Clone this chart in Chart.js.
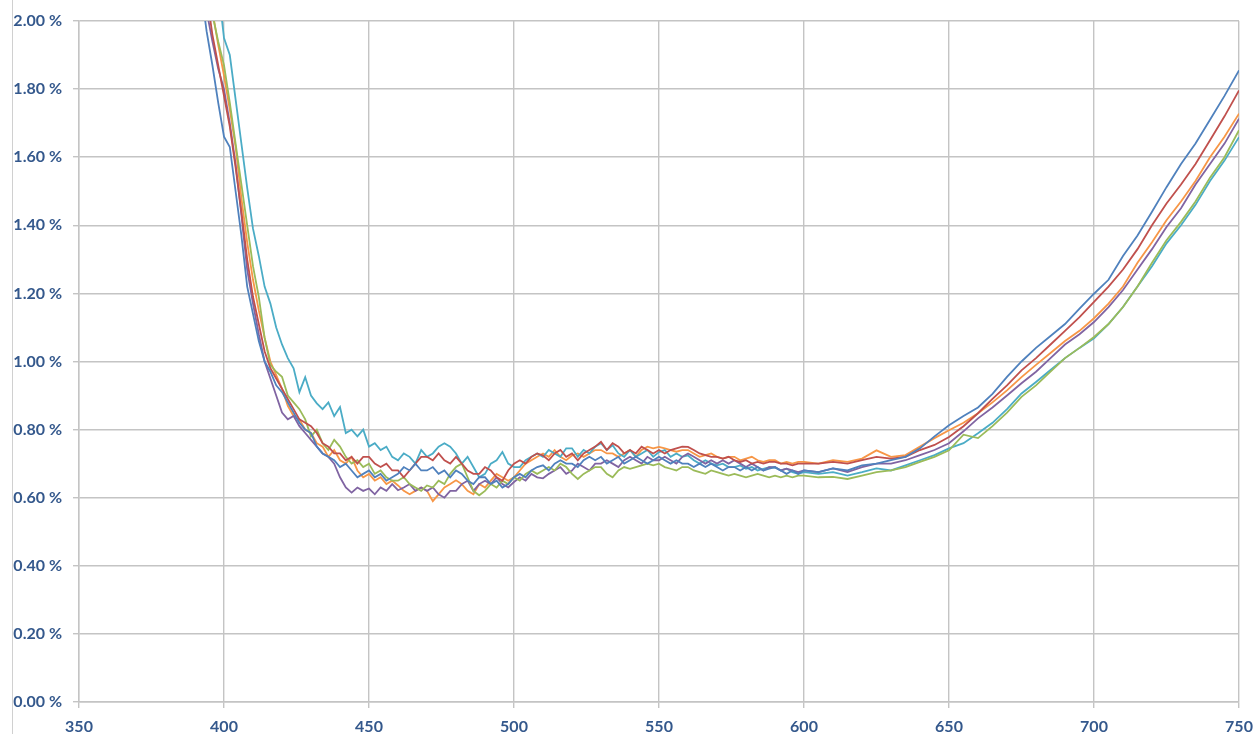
<!DOCTYPE html>
<html>
<head>
<meta charset="utf-8">
<script src="https://cdn.jsdelivr.net/npm/chart.js@4/dist/chart.umd.min.js"></script>
<style>
  body { margin: 0; background: #fff; }
  #wrap { position: relative; width: 1257px; height: 734px; }
  #edge { position: absolute; left: 12px; top: 0; width: 0; height: 734px; border-left: 1px solid #d0d0d0; }
</style>
</head>
<body>
<div id="wrap">
  <canvas id="myChart"></canvas>
  <div id="edge"></div>
</div>
<script>
// wavelengths (nm)
var wavelengths = [
  390, 392, 394, 396, 398, 400, 402, 404, 406, 408,
  410, 412, 414, 416, 418, 420, 422, 424, 426, 428,
  430, 432, 434, 436, 438, 440, 442, 444, 446, 448,
  450, 452, 454, 456, 458, 460, 462, 464, 466, 468,
  470, 472, 474, 476, 478, 480, 482, 484, 486, 488,
  490, 492, 494, 496, 498, 500, 502, 504, 506, 508,
  510, 512, 514, 516, 518, 520, 522, 524, 526, 528,
  530, 532, 534, 536, 538, 540, 542, 544, 546, 548,
  550, 552, 554, 556, 558, 560, 562, 564, 566, 568,
  570, 572, 574, 576, 578, 580, 582, 584, 586, 588,
  590, 592, 594, 596, 598, 600,
  605, 610, 615, 620, 625, 630, 635, 640, 645, 650,
  655, 660, 665, 670, 675, 680, 685, 690, 695, 700,
  705, 710, 715, 720, 725, 730, 735, 740, 745, 750
];

// values in %
var serieBlue = [
  2.25, 2.10, 1.97, 1.87, 1.76, 1.66, 1.63, 1.50, 1.37, 1.22,
  1.14, 1.06, 1.00, 0.97, 0.93, 0.91, 0.88, 0.85, 0.82, 0.80,
  0.79, 0.75, 0.73, 0.72, 0.71, 0.69, 0.70, 0.68, 0.66, 0.67,
  0.68, 0.66, 0.67, 0.65, 0.66, 0.67, 0.69, 0.68, 0.70, 0.68,
  0.68, 0.69, 0.67, 0.68, 0.66, 0.68, 0.67, 0.65, 0.64, 0.66,
  0.66, 0.64, 0.65, 0.63, 0.64, 0.66, 0.67, 0.66, 0.68, 0.69,
  0.695, 0.68, 0.70, 0.71, 0.70, 0.70, 0.69, 0.71, 0.72, 0.71,
  0.72, 0.70, 0.71, 0.72, 0.70, 0.71, 0.72, 0.71, 0.70, 0.71,
  0.72, 0.71, 0.70, 0.71, 0.70, 0.70, 0.69, 0.70, 0.69, 0.70,
  0.69, 0.68, 0.69, 0.69, 0.68, 0.69, 0.68, 0.69, 0.68, 0.685,
  0.69, 0.68, 0.67, 0.68, 0.67, 0.68,
  0.675, 0.686, 0.68, 0.695, 0.70, 0.71, 0.72, 0.745, 0.78, 0.813,
  0.84, 0.865, 0.905, 0.955, 1.00, 1.04, 1.075, 1.11, 1.155, 1.199,
  1.24, 1.31, 1.37, 1.44, 1.512, 1.58, 1.64, 1.71, 1.78, 1.855
];

var serieRed = [
  2.40, 2.25, 2.08, 1.96, 1.87, 1.78, 1.69, 1.57, 1.44, 1.30,
  1.19, 1.11, 1.03, 0.98, 0.95, 0.92, 0.89, 0.86, 0.83, 0.82,
  0.81, 0.79, 0.76, 0.75, 0.73, 0.73, 0.71, 0.72, 0.70, 0.72,
  0.72, 0.70, 0.69, 0.70, 0.68, 0.68, 0.66, 0.68, 0.70, 0.72,
  0.72, 0.71, 0.73, 0.71, 0.70, 0.72, 0.70, 0.68, 0.67, 0.67,
  0.69, 0.68, 0.66, 0.65, 0.68, 0.70, 0.71, 0.70, 0.72, 0.73,
  0.724, 0.71, 0.73, 0.74, 0.72, 0.73, 0.71, 0.73, 0.74, 0.75,
  0.764, 0.74, 0.76, 0.75, 0.73, 0.74, 0.73, 0.75, 0.74, 0.73,
  0.74, 0.73, 0.74, 0.745, 0.75, 0.749, 0.74, 0.73, 0.725, 0.72,
  0.72, 0.715, 0.72, 0.71, 0.705, 0.71, 0.70, 0.705, 0.70, 0.705,
  0.705, 0.70, 0.70, 0.695, 0.70, 0.70,
  0.70, 0.705, 0.70, 0.71, 0.72, 0.715, 0.72, 0.74, 0.755, 0.778,
  0.81, 0.848, 0.89, 0.93, 0.974, 1.01, 1.05, 1.09, 1.13, 1.175,
  1.22, 1.27, 1.33, 1.40, 1.464, 1.52, 1.58, 1.65, 1.72, 1.796
];

var serieGreen = [
  2.50, 2.33, 2.17, 2.02, 1.94, 1.87, 1.76, 1.64, 1.52, 1.40,
  1.28, 1.19, 1.07, 0.99, 0.97, 0.955, 0.90, 0.88, 0.86, 0.83,
  0.78, 0.80, 0.76, 0.74, 0.77, 0.75, 0.72, 0.70, 0.71, 0.69,
  0.70, 0.67, 0.68, 0.66, 0.65, 0.65, 0.66, 0.64, 0.63, 0.62,
  0.636, 0.63, 0.65, 0.64, 0.67, 0.69, 0.70, 0.66, 0.62, 0.607,
  0.62, 0.64, 0.63, 0.65, 0.64, 0.66, 0.65, 0.67, 0.68, 0.67,
  0.68, 0.69, 0.68, 0.70, 0.69, 0.67, 0.655, 0.67, 0.68, 0.69,
  0.69, 0.67, 0.66, 0.68, 0.69, 0.685, 0.69, 0.695, 0.70, 0.695,
  0.70, 0.69, 0.685, 0.68, 0.69, 0.69, 0.68, 0.675, 0.67, 0.68,
  0.675, 0.67, 0.665, 0.67, 0.665, 0.66, 0.665, 0.67, 0.665, 0.66,
  0.665, 0.66, 0.665, 0.66, 0.665, 0.665,
  0.66, 0.661, 0.655, 0.665, 0.675, 0.68, 0.69, 0.705, 0.72, 0.739,
  0.785, 0.775, 0.81, 0.85, 0.896, 0.93, 0.97, 1.01, 1.04, 1.072,
  1.11, 1.16, 1.22, 1.29, 1.356, 1.41, 1.47, 1.54, 1.60, 1.679
];

var seriePurple = [
  2.35, 2.20, 2.03, 1.94, 1.86, 1.80, 1.70, 1.58, 1.43, 1.27,
  1.17, 1.08, 1.00, 0.95, 0.90, 0.85, 0.83, 0.84, 0.81, 0.79,
  0.77, 0.75, 0.73, 0.72, 0.70, 0.66, 0.63, 0.615, 0.63, 0.62,
  0.627, 0.61, 0.63, 0.62, 0.64, 0.622, 0.63, 0.64, 0.62, 0.63,
  0.62, 0.63, 0.61, 0.60, 0.62, 0.62, 0.64, 0.65, 0.62, 0.64,
  0.65, 0.64, 0.66, 0.64, 0.63, 0.646, 0.66, 0.65, 0.67, 0.66,
  0.657, 0.67, 0.68, 0.69, 0.67, 0.68, 0.70, 0.69, 0.68, 0.70,
  0.70, 0.71, 0.70, 0.69, 0.71, 0.72, 0.71, 0.70, 0.72, 0.71,
  0.71, 0.72, 0.71, 0.70, 0.72, 0.73, 0.72, 0.71, 0.70, 0.71,
  0.70, 0.71, 0.70, 0.71, 0.70, 0.69, 0.70, 0.69, 0.68, 0.69,
  0.69, 0.68, 0.685, 0.68, 0.675, 0.68,
  0.675, 0.686, 0.675, 0.69, 0.70, 0.70, 0.71, 0.725, 0.74, 0.76,
  0.795, 0.833, 0.865, 0.90, 0.936, 0.97, 1.01, 1.05, 1.08, 1.116,
  1.16, 1.21, 1.27, 1.33, 1.395, 1.45, 1.52, 1.58, 1.64, 1.713
];

var serieTeal = [
  2.70, 2.55, 2.40, 2.25, 2.10, 1.95, 1.90, 1.77, 1.64, 1.51,
  1.39, 1.31, 1.22, 1.17, 1.10, 1.05, 1.01, 0.98, 0.91, 0.954,
  0.90, 0.877, 0.86, 0.88, 0.84, 0.866, 0.79, 0.80, 0.78, 0.80,
  0.75, 0.76, 0.74, 0.75, 0.72, 0.71, 0.73, 0.72, 0.70, 0.74,
  0.72, 0.73, 0.75, 0.76, 0.75, 0.73, 0.70, 0.72, 0.69, 0.66,
  0.67, 0.70, 0.71, 0.734, 0.70, 0.69, 0.69, 0.71, 0.72, 0.73,
  0.72, 0.74, 0.73, 0.72, 0.745, 0.745, 0.72, 0.74, 0.73, 0.75,
  0.76, 0.74, 0.754, 0.73, 0.72, 0.74, 0.72, 0.73, 0.74, 0.72,
  0.734, 0.74, 0.72, 0.73, 0.72, 0.724, 0.71, 0.70, 0.71, 0.70,
  0.695, 0.70, 0.69, 0.69, 0.695, 0.685, 0.69, 0.68, 0.685, 0.69,
  0.688, 0.68, 0.685, 0.675, 0.67, 0.675,
  0.67, 0.675, 0.665, 0.675, 0.686, 0.68, 0.695, 0.71, 0.725, 0.745,
  0.76, 0.789, 0.82, 0.86, 0.906, 0.94, 0.975, 1.01, 1.04, 1.068,
  1.11, 1.16, 1.22, 1.28, 1.347, 1.40, 1.46, 1.53, 1.59, 1.659
];

var serieOrange = [
  2.50, 2.35, 2.18, 2.03, 1.93, 1.84, 1.74, 1.63, 1.48, 1.35,
  1.24, 1.15, 1.07, 1.00, 0.96, 0.92, 0.87, 0.84, 0.83, 0.80,
  0.79, 0.76, 0.75, 0.72, 0.74, 0.71, 0.70, 0.72, 0.68, 0.66,
  0.67, 0.65, 0.66, 0.64, 0.65, 0.636, 0.62, 0.61, 0.62, 0.63,
  0.62, 0.59, 0.61, 0.63, 0.64, 0.651, 0.64, 0.62, 0.61, 0.64,
  0.63, 0.65, 0.67, 0.66, 0.65, 0.66, 0.68, 0.70, 0.71, 0.72,
  0.73, 0.72, 0.74, 0.72, 0.71, 0.724, 0.73, 0.72, 0.73, 0.74,
  0.74, 0.73, 0.73, 0.72, 0.73, 0.74, 0.72, 0.74, 0.75, 0.745,
  0.749, 0.745, 0.74, 0.735, 0.74, 0.74, 0.73, 0.72, 0.725, 0.73,
  0.72, 0.715, 0.72, 0.72, 0.71, 0.715, 0.72, 0.71, 0.705, 0.71,
  0.71, 0.70, 0.705, 0.70, 0.705, 0.705,
  0.70, 0.71, 0.705, 0.715, 0.739, 0.72, 0.725, 0.75, 0.775, 0.798,
  0.82, 0.848, 0.88, 0.915, 0.954, 0.99, 1.025, 1.06, 1.09, 1.127,
  1.17, 1.22, 1.29, 1.35, 1.415, 1.47, 1.53, 1.60, 1.66, 1.728
];

var seriesList = [serieBlue, serieRed, serieGreen, seriePurple, serieTeal, serieOrange];
var seriesColors = ['#4F81BD', '#C0504D', '#9BBB59', '#8064A2', '#4BACC6', '#F79646'];

var datasets = [];
for (var s = 0; s < seriesList.length; s++) {
  var pts = [];
  for (var i = 0; i < wavelengths.length; i++) {
    pts.push({ x: wavelengths[i], y: seriesList[s][i] });
  }
  datasets.push({
    data: pts,
    borderColor: seriesColors[s],
    borderWidth: 1.8,
    pointRadius: 0,
    fill: false,
    tension: 0
  });
}

var gridColor = '#c4c4c4';
var labelFont = { family: 'Lato', size: 16, weight: 'bold' };
var labelColor = '#34588C';

const ctx = document.getElementById('myChart').getContext('2d');
const myChart = new Chart(ctx, {
  type: 'line',
  data: { datasets: datasets },
  options: {
    responsive: true,
    maintainAspectRatio: false,
    animation: false,
    layout: { padding: { top: 21, right: 18, left: 0, bottom: 0 } },
    plugins: { legend: { display: false }, tooltip: { enabled: false } },
    scales: {
      x: {
        type: 'linear',
        min: 350,
        max: 750,
        ticks: { stepSize: 50, color: labelColor, font: labelFont, padding: 9, maxRotation: 0 },
        grid: { color: gridColor, lineWidth: 1.4, tickLength: 6 },
        border: { color: gridColor, width: 1.4 },
        afterFit: function (scale) {
          scale.height = 32;
          scale.paddingLeft = 0;
          scale.paddingRight = 0;
        }
      },
      y: {
        min: 0,
        max: 2,
        ticks: {
          stepSize: 0.2,
          color: labelColor,
          font: labelFont,
          padding: 11,
          callback: function (v) { return v.toFixed(2) + ' %'; }
        },
        grid: { color: gridColor, lineWidth: 1.4, tickLength: 6 },
        border: { color: gridColor, width: 1.4 },
        afterFit: function (scale) { scale.width = 79; }
      }
    }
  }
});
</script>
</body>
</html>
